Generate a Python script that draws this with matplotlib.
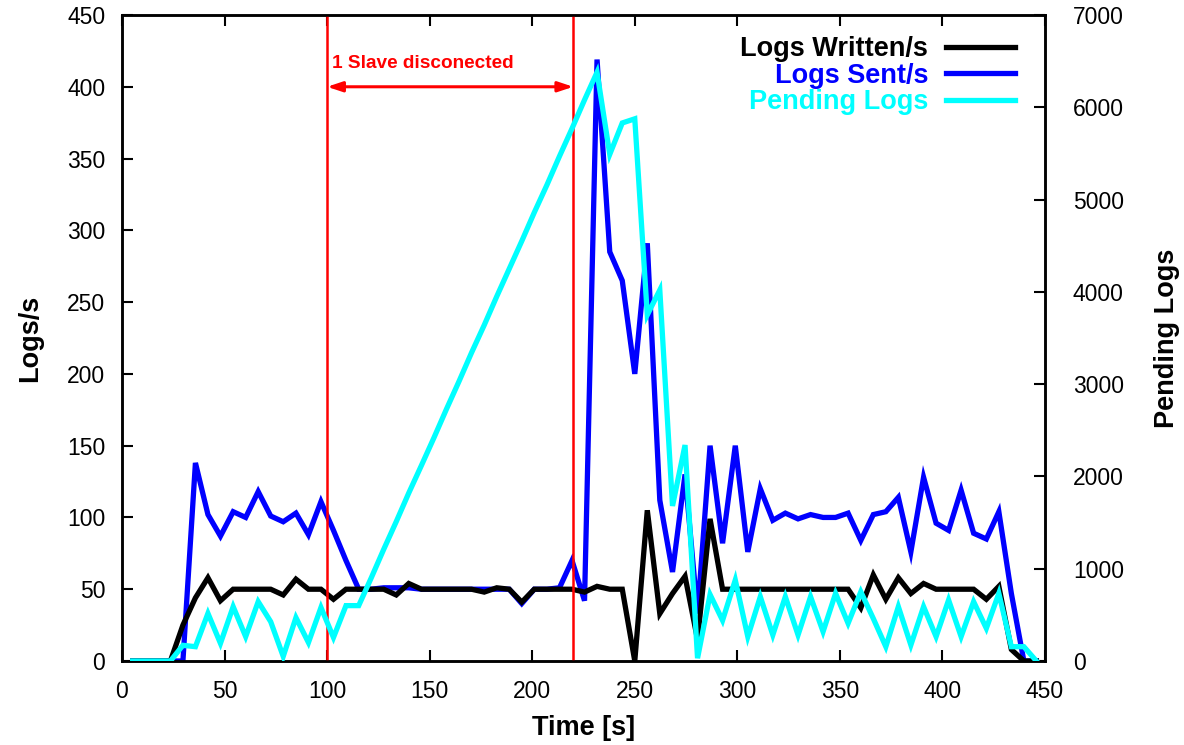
import matplotlib
matplotlib.use('Agg')
import matplotlib.pyplot as plt

plt.rcParams['font.family'] = ['Liberation Sans', 'DejaVu Sans']

# ---------------- data ----------------
time_s = [5.2, 11.3, 17.4, 23.6, 29.7, 35.8, 41.9, 48.0, 54.2, 60.3,
          66.4, 72.5, 78.6, 84.8, 90.9, 97.0, 103.1, 109.2, 115.4, 121.5,
          127.6, 133.7, 139.8, 146.0, 152.1, 158.2, 164.3, 170.4, 176.6, 182.7,
          188.8, 194.9, 201.0, 207.2, 213.3, 219.4, 225.5, 231.6, 237.8, 243.9,
          250.0, 256.1, 262.2, 268.4, 274.5, 280.6, 286.7, 292.8, 299.0, 305.1,
          311.2, 317.3, 323.4, 329.6, 335.7, 341.8, 347.9, 354.0, 360.2, 366.3,
          372.4, 378.5, 384.6, 390.8, 396.9, 403.0, 409.1, 415.2, 421.4, 427.5,
          433.6, 439.7, 445.8]

logs_written = [0, 0, 0, 0, 25, 44, 58, 42, 50, 50,
                50, 50, 46, 57, 50, 50, 43, 50, 50, 50,
                50, 46, 54, 50, 50, 50, 50, 50, 48, 51,
                50, 41, 50, 50, 50, 50, 48, 52, 50, 50,
                0, 105, 33, 47, 59, 15, 99, 50, 50, 50,
                50, 50, 50, 50, 50, 50, 50, 50, 37, 60,
                43, 58, 47, 54, 50, 50, 50, 50, 43, 52,
                8, 0, 0]

logs_sent = [0, 0, 0, 0, 0, 138, 102, 87, 104, 100,
             118, 101, 97, 103, 88, 111, 91, 70, 50, 50,
             51, 51, 51, 50, 50, 50, 50, 50, 50, 50,
             50, 40, 50, 50, 51, 70, 42, 419, 285, 265,
             200, 291, 112, 62, 130, 33, 150, 82, 150, 76,
             120, 98, 103, 99, 102, 100, 100, 103, 84, 102,
             104, 114, 76, 128, 96, 91, 119, 89, 85, 104,
             47, 0, 0]

pending_logs = [0, 0, 0, 0, 170, 155, 516, 191, 589, 264,
                643, 426, 50, 470, 200, 580, 255, 600, 600, 900,
                1210, 1510, 1820, 2120, 2420, 2730, 3030, 3340, 3640, 3950,
                4250, 4550, 4860, 5160, 5470, 5770, 6080, 6380, 5490, 5830,
                5875, 3750, 4020, 1680, 2340, 30, 720, 440, 878, 264,
                697, 282, 697, 282, 697, 318, 733, 408, 750, 460,
                155, 589, 173, 589, 264, 661, 264, 643, 354, 733,
                155, 155, 0]

x_ticks = [0, 50, 100, 150, 200, 250, 300, 350, 400, 450]
y_ticks = [0, 50, 100, 150, 200, 250, 300, 350, 400, 450]
y2_ticks = [0, 1000, 2000, 3000, 4000, 5000, 6000, 7000]

series_labels = ['Logs Written/s', 'Logs Sent/s', 'Pending Logs']
series_colors = ['#000000', '#0000ff', '#00ffff']

event_times = [100, 220]
event_label = '1 Slave disconected'
arrow_level = 400
label_level = 416

# ---------------- figure ----------------
W, H = 1184, 745
fig = plt.figure(figsize=(W / 100, H / 100), dpi=100)
ax = fig.add_axes([122 / W, 1 - 661 / H, (1045 - 122) / W, (661 - 15) / H])
ax2 = ax.twinx()

lw = 3.8
l_sent, = ax.plot(time_s, logs_sent, color=series_colors[1], lw=lw,
                  solid_joinstyle='miter', zorder=2, label=series_labels[1])
l_written, = ax.plot(time_s, logs_written, color=series_colors[0], lw=lw,
                     solid_joinstyle='miter', zorder=3, label=series_labels[0])
l_pend, = ax2.plot(time_s, pending_logs, color=series_colors[2], lw=lw,
                   solid_joinstyle='miter', zorder=3, label=series_labels[2])

# event markers
for t in event_times:
    ax.axvline(t, color='#ff0000', lw=1.8, zorder=4)
ax.annotate('', xy=(event_times[0], arrow_level), xytext=(event_times[1], arrow_level),
            arrowprops=dict(arrowstyle='<|-|>,head_length=0.9,head_width=0.3',
                            color='#ff0000', lw=2.2, shrinkA=0, shrinkB=0),
            zorder=5)
ax.text(event_times[0] + 2.5, label_level, event_label, color='#ff0000',
        fontsize=13.7, fontweight='bold', ha='left', va='center')

# axes limits and ticks
ax.set_xlim(0, 450)
ax.set_ylim(0, 450)
ax2.set_ylim(0, 7000)
ax.set_xticks(x_ticks)
ax.set_yticks(y_ticks)
ax2.set_yticks(y2_ticks)

ax.tick_params(axis='both', direction='in', length=8, width=1.5, labelsize=16.5, pad=12)
ax.tick_params(axis='x', top=True, pad=14)
ax.tick_params(axis='y', right=False)
ax2.tick_params(axis='y', direction='in', length=8, width=1.5, labelsize=16.5, pad=20)

for a in (ax, ax2):
    for s in a.spines.values():
        s.set_linewidth(1.8)

ax.set_xlabel('Time [s]', fontsize=19.5, fontweight='bold', labelpad=8)
ax.set_ylabel('Logs/s', fontsize=19.5, fontweight='bold', labelpad=17)
ax2.set_ylabel('Pending Logs', fontsize=19.5, fontweight='bold', labelpad=22)

leg = ax2.legend(handles=[l_written, l_sent, l_pend], loc='upper right',
                 bbox_to_anchor=(0.9675, 0.967), frameon=False, markerfirst=False,
                 prop=dict(size=19.5, weight='bold'), labelcolor='linecolor',
                 handlelength=2.55, handletextpad=0.65, labelspacing=0.02,
                 borderpad=0, borderaxespad=0)
leg.set_zorder(10)

fig.savefig('out.png', dpi=100)
